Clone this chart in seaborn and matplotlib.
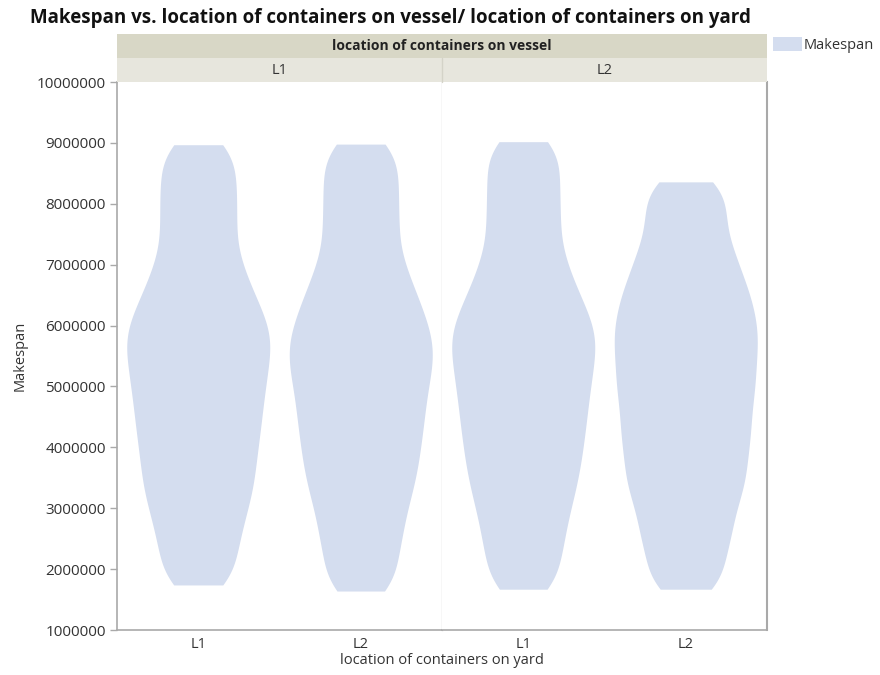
import matplotlib
matplotlib.use("Agg")
import matplotlib.pyplot as plt
from matplotlib.patches import Rectangle, Patch
from matplotlib.ticker import FuncFormatter, MultipleLocator
import pandas as pd
import seaborn as sns

# Makespan observations (millions of time units) per vessel / yard location
vessel_levels = ["L1", "L2"]
yard_levels = ["L1", "L2"]

makespan_v1_y1 = [1.74, 2.00, 2.26, 2.50, 2.72, 2.93, 3.12, 3.30, 3.47, 3.64,
                  3.81, 3.97, 4.13, 4.29, 4.44, 4.59, 4.74, 4.89, 5.03, 5.17,
                  5.31, 5.45, 5.58, 5.71, 5.84, 5.97, 6.11, 6.25, 6.41, 6.58,
                  6.76, 6.97, 7.19, 7.45, 7.70, 7.95, 8.20, 8.45, 8.71, 8.97]
makespan_v1_y2 = [1.64, 1.91, 2.18, 2.43, 2.66, 2.88, 3.09, 3.28, 3.46, 3.63,
                  3.80, 3.96, 4.12, 4.28, 4.43, 4.58, 4.73, 4.88, 5.02, 5.16,
                  5.30, 5.43, 5.56, 5.69, 5.82, 5.96, 6.10, 6.25, 6.41, 6.58,
                  6.76, 6.97, 7.19, 7.45, 7.70, 7.95, 8.21, 8.46, 8.72, 8.98]
makespan_v2_y1 = [1.67, 1.94, 2.21, 2.45, 2.68, 2.90, 3.10, 3.29, 3.47, 3.64,
                  3.81, 3.97, 4.13, 4.29, 4.44, 4.59, 4.74, 4.89, 5.03, 5.17,
                  5.31, 5.45, 5.58, 5.71, 5.84, 5.97, 6.11, 6.25, 6.41, 6.58,
                  6.76, 6.97, 7.19, 7.45, 7.71, 7.97, 8.23, 8.50, 8.76, 9.02]
makespan_v2_y2 = [1.67, 1.94, 2.21, 2.45, 2.67, 2.88, 3.09, 3.27, 3.44, 3.61,
                  3.77, 3.94, 4.10, 4.25, 4.41, 4.56, 4.72, 4.87, 5.01, 5.16,
                  5.30, 5.45, 5.59, 5.73, 5.87, 6.01, 6.15, 6.30, 6.45, 6.61,
                  6.77, 6.96, 7.15, 7.36, 7.61, 7.86, 8.11, 8.36]

UNIT = 1_000_000

groups = {
    ("L1", "L1"): makespan_v1_y1,
    ("L1", "L2"): makespan_v1_y2,
    ("L2", "L1"): makespan_v2_y1,
    ("L2", "L2"): makespan_v2_y2,
}
rows = []
for (vessel, yard), vals in groups.items():
    for v in vals:
        rows.append({"vessel": vessel, "yard": yard, "Makespan": v * UNIT})
df = pd.DataFrame(rows)

sns.set_theme(style="white")
plt.rcParams["font.family"] = ["Open Sans", "DejaVu Sans"]

VIOLIN = "#d4ddef"
AXIS_GRAY = "#a9a9a9"
DIVIDER = "#dadada"
TEXT = "#333333"

W, H = 880, 675
fig = plt.figure(figsize=(W / 100, H / 100), dpi=100)

left_px, right_px, top_px, bottom_px = 117, 767, 82, 630
mid_px = (left_px + right_px) / 2
pw = (mid_px - left_px) / W
ph = (bottom_px - top_px) / H
y0 = 1 - bottom_px / H
ax1 = fig.add_axes([left_px / W, y0, pw, ph])
ax2 = fig.add_axes([mid_px / W, y0, pw, ph], sharey=ax1)

for ax, vessel in zip([ax1, ax2], vessel_levels):
    sub = df[df["vessel"] == vessel]
    sns.violinplot(data=sub, x="yard", y="Makespan", order=yard_levels,
                   cut=0, inner=None, density_norm="width", width=0.88,
                   bw_adjust=0.35, gridsize=200, color=VIOLIN, saturation=1,
                   linewidth=0, ax=ax)
    ax.set_xlim(-0.5, 1.5)
    ax.set_xlabel("")
    ax.set_ylabel("")
    ax.tick_params(axis="x", length=0, labelsize=10.5, colors=TEXT, pad=5)
    for s in ax.spines.values():
        s.set_visible(False)
    ax.spines["bottom"].set_visible(True)
    ax.spines["bottom"].set_color(AXIS_GRAY)
    ax.spines["bottom"].set_linewidth(1.2)

ax1.set_ylim(1 * UNIT, 10 * UNIT)
ax1.yaxis.set_major_locator(MultipleLocator(UNIT))
ax1.yaxis.set_major_formatter(FuncFormatter(lambda v, p: f"{v:.0f}"))
ax1.tick_params(axis="y", length=5, width=1, color=AXIS_GRAY,
                labelsize=11, labelcolor=TEXT, pad=3, left=True)
ax1.spines["left"].set_visible(True)
ax1.spines["left"].set_color(AXIS_GRAY)
ax1.spines["left"].set_linewidth(1.2)
ax1.spines["right"].set_visible(True)
ax1.spines["right"].set_color(DIVIDER)
ax1.spines["right"].set_linewidth(1)
ax2.tick_params(axis="y", left=False, labelleft=False)
ax2.spines["right"].set_visible(True)
ax2.spines["right"].set_color(AXIS_GRAY)
ax2.spines["right"].set_linewidth(1.5)

# Facet header strips
strip_h = 24 / H
top_strip_y = 1 - 58 / H
low_strip_y = 1 - 82 / H
fig.add_artist(Rectangle((left_px / W, top_strip_y), (right_px - left_px) / W,
                         strip_h, transform=fig.transFigure,
                         facecolor="#d8d7c6", edgecolor="none"))
fig.add_artist(Rectangle((left_px / W, low_strip_y), (right_px - left_px) / W,
                         strip_h, transform=fig.transFigure,
                         facecolor="#e7e6dd", edgecolor="none"))
fig.add_artist(plt.Line2D([mid_px / W, mid_px / W],
                          [low_strip_y, low_strip_y + strip_h],
                          transform=fig.transFigure, color="#d4d3c8", lw=1))
fig.text((left_px + right_px) / 2 / W, top_strip_y + strip_h / 2,
         "location of containers on vessel", ha="center", va="center",
         fontsize=10, fontweight="bold", color="#222222")
for i, vessel in enumerate(vessel_levels):
    cx = (left_px + (i + 0.5) * (mid_px - left_px)) / W
    fig.text(cx, low_strip_y + strip_h / 2, vessel, ha="center", va="center",
             fontsize=10.5, color=TEXT)

fig.text(30 / W, 1 - 18 / H,
         "Makespan vs. location of containers on vessel/ location of containers on yard",
         ha="left", va="center", fontsize=13.5, fontweight="bold", color="#111111")
fig.text((left_px + right_px) / 2 / W, 1 - 661 / H,
         "location of containers on yard", ha="center", va="center",
         fontsize=10.5, color=TEXT)
fig.text(20 / W, 1 - 356 / H, "Makespan", ha="center", va="center",
         rotation=90, fontsize=10.5, color=TEXT)

fig.legend(handles=[Patch(facecolor=VIOLIN, edgecolor="none")],
           labels=["Makespan"], loc="upper left",
           bbox_to_anchor=(770 / W, 1 - 34 / H), frameon=False,
           handlelength=2.0, handleheight=1.1, handletextpad=0.1,
           borderaxespad=0, borderpad=0.2, fontsize=10.5,
           labelcolor=TEXT)

fig.savefig("out.png", dpi=100, facecolor="white")
